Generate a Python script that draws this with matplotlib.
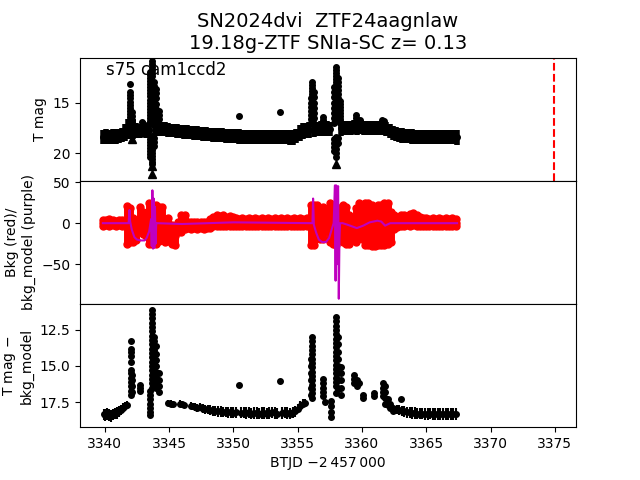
import numpy as np
import matplotlib
matplotlib.use("Agg")
import matplotlib.pyplot as plt

# ---- top panel: T mag band (time, mag, half-width of the scatter) ----
top_t = [3339.85, 3340.10, 3340.35, 3340.60, 3340.85, 3341.10, 3341.35, 3341.60, 3341.80, 3342.00,
         3342.20, 3342.45, 3342.70, 3342.95, 3343.20, 3343.45, 3343.90, 3344.15, 3344.40, 3344.65,
         3344.90, 3345.15, 3345.40, 3345.65, 3345.90, 3346.15, 3346.40, 3346.65, 3346.90, 3347.15,
         3347.40, 3347.65, 3347.90, 3348.15, 3348.40, 3348.65, 3348.90, 3349.15, 3349.40, 3349.65,
         3349.90, 3350.15, 3350.40, 3350.65, 3350.90, 3351.15, 3351.40, 3351.65, 3351.90, 3352.15,
         3352.40, 3352.65, 3352.90, 3353.15, 3353.40, 3353.65, 3353.90, 3354.15, 3354.40, 3354.65,
         3354.90, 3355.15, 3355.40, 3355.65, 3355.90, 3356.30, 3356.55, 3356.80, 3357.05, 3357.30,
         3357.55, 3358.40, 3358.65, 3358.90, 3359.15, 3359.40, 3359.65, 3359.90, 3360.15, 3360.40,
         3360.65, 3360.90, 3361.15, 3361.40, 3361.65, 3361.90, 3362.15, 3362.40, 3362.65, 3362.90,
         3363.15, 3363.40, 3363.65, 3363.90, 3364.15, 3364.40, 3364.65, 3364.90, 3365.15, 3365.40,
         3365.65, 3365.90, 3366.15, 3366.40, 3366.65, 3366.90, 3367.15, 3367.40]
top_m = [18.40, 18.35, 18.40, 18.38, 18.35, 18.30, 18.20, 17.95, 17.60, 17.30,
         17.60, 17.75, 17.80, 17.60, 17.75, 17.70, 17.35, 17.50, 17.60, 17.65,
         17.70, 17.75, 17.78, 17.80, 17.85, 17.90, 17.92, 17.95, 18.00, 18.03,
         18.05, 18.08, 18.10, 18.15, 18.18, 18.20, 18.22, 18.25, 18.28, 18.30,
         18.32, 18.34, 18.36, 18.38, 18.40, 18.40, 18.42, 18.42, 18.42, 18.42,
         18.42, 18.42, 18.42, 18.42, 18.42, 18.42, 18.42, 18.42, 18.44, 18.44,
         18.30, 18.00, 17.80, 17.75, 17.70, 17.60, 17.60, 17.55, 17.55, 17.55,
         17.60, 17.50, 17.50, 17.50, 17.50, 17.45, 17.45, 17.45, 17.50, 17.50,
         17.50, 17.50, 17.50, 17.50, 17.50, 17.65, 17.85, 18.00, 18.10, 18.20,
         18.25, 18.30, 18.32, 18.35, 18.38, 18.38, 18.40, 18.40, 18.40, 18.42,
         18.42, 18.42, 18.42, 18.42, 18.42, 18.42, 18.42, 18.45]
top_e = [0.70, 0.72, 0.70, 0.72, 0.70, 0.72, 0.72, 0.80, 0.98, 1.18,
         0.98, 0.75, 0.72, 0.80, 0.72, 0.75, 0.90, 0.80, 0.70, 0.68,
         0.66, 0.66, 0.66, 0.66, 0.66, 0.66, 0.67, 0.67, 0.67, 0.68,
         0.68, 0.68, 0.68, 0.68, 0.69, 0.69, 0.69, 0.69, 0.70, 0.70,
         0.70, 0.70, 0.71, 0.71, 0.71, 0.71, 0.71, 0.71, 0.71, 0.71,
         0.71, 0.71, 0.71, 0.71, 0.71, 0.71, 0.71, 0.71, 0.71, 0.72,
         0.72, 0.76, 0.76, 0.76, 0.76, 0.76, 0.72, 0.76, 0.76, 0.72,
         0.72, 0.76, 0.72, 0.68, 0.68, 0.70, 0.72, 0.70, 0.68, 0.68,
         0.68, 0.68, 0.68, 0.70, 0.72, 0.70, 0.70, 0.70, 0.70, 0.70,
         0.72, 0.70, 0.70, 0.70, 0.70, 0.70, 0.70, 0.70, 0.70, 0.70,
         0.70, 0.70, 0.70, 0.70, 0.70, 0.70, 0.70, 0.70]

# flare points above / below the band
pk_t = ([3341.98] * 11 + [3342.08] * 4 + [3342.92]
        + [3343.55] * 24 + [3343.68] * 17 + [3343.82] * 14 + [3344.00] * 7 + [3344.18] * 3
        + [3350.41, 3353.65]
        + [3356.02] * 7 + [3356.12] * 14 + [3356.24] * 6 + [3356.97] * 3
        + [3357.85] * 12 + [3358.00] * 24 + [3358.15] * 13 + [3358.32] * 8
        + [3359.57] * 3 + [3359.85, 3361.55, 3361.55, 3361.75])
pk_m = ([13.2, 14.0, 14.3, 14.6, 14.9, 15.2, 15.5, 15.8, 16.1, 16.4, 16.7]
        + [15.9, 16.3, 16.7, 17.0] + [16.9]
        + [12.0, 12.3, 12.6, 12.9, 13.2, 13.5, 13.8, 14.1, 14.4, 14.7, 15.0, 15.3, 15.6, 15.9,
           16.2, 16.5, 16.8, 18.6, 18.9, 19.2, 19.5, 19.8, 20.1, 20.4]
        + [10.85, 11.15, 11.45, 11.75, 12.05, 12.35, 17.1, 18.3, 18.7, 19.0, 19.4, 19.7, 20.0,
           20.3, 20.6, 20.9, 21.1]
        + [13.0, 13.4, 13.7, 14.0, 14.4, 14.8, 15.2, 15.6, 16.0, 16.4, 16.8, 18.5, 18.9, 19.3]
        + [13.7, 14.1, 14.6, 15.1, 15.6, 16.1, 16.6] + [15.8, 16.2, 16.6]
        + [16.28, 15.96]
        + [14.6, 15.0, 15.4, 15.8, 16.2, 16.6, 17.0]
        + [13.0, 13.3, 13.6, 13.9, 14.2, 14.5, 14.8, 15.1, 15.4, 15.7, 16.0, 16.3, 16.6, 16.9]
        + [14.0, 14.5, 15.0, 15.5, 16.0, 16.5] + [16.4, 16.7, 17.0]
        + [13.5, 14.0, 14.5, 15.0, 15.5, 16.0, 16.5, 17.0, 18.6, 19.0, 19.4, 19.8]
        + [11.5, 11.8, 12.1, 12.4, 12.7, 13.0, 13.3, 13.6, 13.9, 14.2, 14.5, 14.8, 15.1, 15.4,
           15.7, 16.0, 16.3, 16.6, 18.4, 18.8, 19.2, 19.6, 20.0, 20.4]
        + [12.6, 13.0, 13.4, 13.8, 14.2, 14.6, 15.0, 15.4, 15.8, 16.2, 16.6, 18.5, 19.0]
        + [14.8, 15.1, 15.4, 15.7, 16.0, 16.3, 16.6, 17.0]
        + [16.2, 16.5, 16.9] + [16.7, 16.7, 17.0, 16.8])

# upper limits
lim_t = [3342.10, 3343.70, 3343.70, 3358.00]
lim_m = [18.65, 21.25, 22.10, 21.05]

# ---- middle panel: background (red, low/high of the scatter) and model (purple) ----
bkg_t = [3339.85, 3340.10, 3340.35, 3340.60, 3340.85, 3341.10, 3341.35, 3341.75, 3341.95, 3342.20,
         3342.45, 3342.70, 3342.95, 3343.20, 3343.45, 3343.70, 3343.95, 3344.20, 3344.45, 3344.70,
         3344.95, 3345.20, 3345.45, 3345.70, 3345.95, 3346.20, 3346.45, 3346.70, 3346.95, 3347.20,
         3347.45, 3347.70, 3347.95, 3348.20, 3348.45, 3348.70, 3348.95, 3349.20, 3349.45, 3349.70,
         3349.95, 3350.20, 3350.45, 3350.70, 3350.95, 3351.20, 3351.45, 3351.70, 3351.95, 3352.20,
         3352.45, 3352.70, 3352.95, 3353.20, 3353.45, 3353.70, 3353.95, 3354.20, 3354.45, 3354.70,
         3354.95, 3355.20, 3355.45, 3355.70, 3356.00, 3356.25, 3356.50, 3356.75, 3357.00, 3357.25,
         3357.50, 3357.75, 3358.00, 3358.25, 3358.50, 3358.75, 3359.00, 3359.25, 3359.50, 3359.75,
         3360.00, 3360.25, 3360.50, 3360.75, 3361.00, 3361.25, 3361.50, 3361.75, 3362.00, 3362.25,
         3362.50, 3362.75, 3363.00, 3363.25, 3363.50, 3363.75, 3364.00, 3364.25, 3364.50, 3364.75,
         3365.00, 3365.25, 3365.50, 3365.75, 3366.00, 3366.25, 3366.50, 3366.75, 3367.00, 3367.30]
bkg_lo = [-3, -2, -3, -2, -3, -2, -3, -25, -23, -23,
          -21, -7, -13, -15, -25, -25, -25, -22, -18, -23,
          -22, -25, -27, -11, -11, -7, -6, -7, -6, -7,
          -6, -7, -6, -6, -4, -3, -4, -3, -4, -3,
          -4, -3, -3, -4, -3, -4, -4, -4, -3, -4,
          -4, -3, -4, -4, -4, -3, -4, -4, -3, -4,
          -4, -4, -3, -4, -27, -27, -14, -19, -19, -10,
          -23, -25, -27, -15, -23, -25, -25, -19, -23, -18,
          -19, -27, -27, -28, -28, -27, -27, -26, -25, -23,
          -7, -5, -3, -3, -2, -3, -2, -3, -3, -4,
          -4, -4, -3, -4, -4, -3, -4, -4, -3, -4]
bkg_hi = [4, 4, 5, 4, 3, 4, 4, 21, 18, 6,
          2, 20, 14, 10, 25, 14, 22, 20, 20, 5,
          6, -2, -3, 2, 10, 10, 1, 2, 1, 2,
          1, 2, 2, 5, 8, 10, 9, 10, 8, 9,
          7, 6, 5, 6, 5, 6, 5, 6, 5, 6,
          5, 6, 5, 6, 5, 6, 5, 6, 5, 6,
          5, 6, 5, 6, 22, 22, 22, 5, 20, 15,
          25, 20, 13, 18, 22, 20, 10, 6, 18, 24,
          22, 24, 24, 22, 18, 22, 22, 25, 24, 14,
          10, 8, 10, 10, 9, 11, 12, 10, 8, 6,
          6, 5, 6, 5, 6, 5, 6, 5, 6, 5]

mod_t = [3339.85, 3341.85, 3341.92, 3341.97, 3342.10, 3342.30, 3342.50, 3342.80, 3343.10, 3343.25,
         3343.45, 3343.60, 3343.65, 3343.70, 3343.75, 3343.80, 3343.85, 3343.90, 3343.95, 3344.00,
         3344.10, 3346.00, 3348.00, 3350.00, 3356.15, 3356.20, 3356.26, 3356.45, 3356.65, 3356.90,
         3357.20, 3357.45, 3357.60, 3357.80, 3357.90, 3357.95, 3358.00, 3358.05, 3358.10, 3358.15,
         3358.20, 3358.25, 3358.30, 3358.50, 3358.90, 3359.60, 3360.10, 3360.60, 3361.20, 3361.50,
         3361.80, 3362.20, 3367.40]
mod_v = [0, 0, 16, 2, -8, -17, -20, -21, -21, -18,
         -10, 5, -28, 40, -31, 30, -30, 20, -25, 0,
         0, -1, 0, 1, 0, 30, -2, -12, -20, -23,
         -23, -18, -10, 0, 46, -70, 46, -50, 40, 45,
         -92, -20, 0, 0, -2, -6, -3, 1, 3, 2,
         -3, 0, 0]

# ---- bottom panel: T mag - bkg_model ----
# quiet-phase points (with scatter)
bot_t = [3339.90, 3340.05, 3340.20, 3340.35, 3340.50, 3340.65, 3340.80, 3340.95, 3341.10, 3341.25,
         3341.40, 3341.55, 3341.70,
         3344.95, 3345.15, 3345.30, 3345.85, 3346.00, 3346.15, 3346.70, 3346.85, 3347.00, 3347.20,
         3347.40, 3347.60, 3347.80, 3348.00, 3348.20, 3348.40, 3348.60, 3348.80, 3349.00, 3349.20,
         3349.40, 3349.60, 3349.80, 3350.00, 3350.20, 3350.60, 3350.80, 3351.00, 3351.20, 3351.40,
         3351.60, 3351.80, 3352.00, 3352.20, 3352.40, 3352.60, 3352.80, 3353.00, 3353.20, 3353.40,
         3353.80, 3354.00, 3354.20, 3354.40, 3354.60, 3354.80, 3355.00, 3355.20, 3355.40, 3355.60,
         3362.70, 3362.90, 3363.10, 3363.30, 3363.50, 3363.70, 3363.90, 3364.10, 3364.30, 3364.50,
         3364.70, 3364.90, 3365.10, 3365.30, 3365.50, 3365.70, 3365.90, 3366.10, 3366.30, 3366.50,
         3366.70, 3366.90, 3367.10, 3367.30]
bot_m = [18.35, 18.40, 18.30, 18.40, 18.45, 18.35, 18.30, 18.25, 18.15, 18.05,
         17.90, 17.80, 17.70,
         17.55, 17.60, 17.65, 17.60, 17.65, 17.70, 17.75, 17.80, 17.85, 17.90,
         17.85, 17.95, 18.00, 18.00, 18.05, 18.10, 18.12, 18.15, 18.15, 18.18,
         18.20, 18.22, 18.22, 18.25, 18.22, 18.25, 18.25, 18.25, 18.22, 18.30,
         18.25, 18.25, 18.30, 18.25, 18.25, 18.30, 18.25, 18.22, 18.25, 18.30,
         18.25, 18.22, 18.25, 18.30, 18.22, 18.15, 17.95, 17.75, 17.60, 17.55,
         18.00, 18.05, 18.10, 18.15, 18.20, 18.20, 18.25, 18.25, 18.30, 18.30,
         18.30, 18.32, 18.32, 18.30, 18.32, 18.32, 18.32, 18.35, 18.32, 18.32,
         18.35, 18.32, 18.32, 18.35]
bot_e = [0.40, 0.42, 0.42, 0.40, 0.42, 0.40, 0.40, 0.40, 0.36, 0.35,
         0.32, 0.30, 0.30,
         0.22, 0.22, 0.22, 0.22, 0.22, 0.22, 0.25, 0.25, 0.28, 0.28,
         0.28, 0.30, 0.30, 0.30, 0.32, 0.35, 0.35, 0.35, 0.35, 0.35,
         0.35, 0.35, 0.35, 0.38, 0.38, 0.38, 0.38, 0.40, 0.40, 0.40,
         0.40, 0.40, 0.40, 0.40, 0.40, 0.40, 0.40, 0.40, 0.40, 0.40,
         0.40, 0.40, 0.40, 0.40, 0.40, 0.36, 0.32, 0.30, 0.28, 0.28,
         0.32, 0.35, 0.35, 0.35, 0.38, 0.38, 0.40, 0.40, 0.40, 0.40,
         0.40, 0.40, 0.40, 0.40, 0.40, 0.40, 0.40, 0.42, 0.42, 0.42,
         0.42, 0.42, 0.42, 0.42]

# flare-phase points
bf_t = ([3342.00] * 12 + [3342.08] * 4 + [3342.75] * 3 + [3343.50] * 7 + [3343.68] * 19
        + [3343.82] * 10 + [3344.00] * 8 + [3344.20] * 4 + [3350.41, 3353.65]
        + [3356.05] * 6 + [3356.12] * 15 + [3356.95] * 5 + [3357.10] + [3357.60] * 4
        + [3357.98] * 18 + [3358.15] * 8 + [3358.35] * 5 + [3359.40] * 3 + [3359.60] * 2
        + [3359.80] + [3360.10] * 2 + [3360.90] * 2 + [3361.60] * 4 + [3361.80] * 4
        + [3362.00] * 2 + [3362.20] * 2 + [3362.45] * 2 + [3363.00])
bf_m = ([13.25, 13.8, 14.0, 14.3, 14.7, 15.3, 15.5, 15.8, 16.1, 16.4, 16.7, 17.0]
        + [15.6, 16.0, 16.4, 16.8] + [16.3, 16.5, 16.7]
        + [16.7, 17.0, 17.3, 17.6, 17.9, 18.2, 18.4]
        + [11.15, 11.4, 11.7, 12.0, 12.3, 12.6, 12.9, 13.2, 13.5, 13.8, 14.1, 14.4, 14.7, 15.0,
           15.3, 15.6, 15.9, 16.2, 16.5]
        + [13.0, 13.3, 13.6, 13.9, 14.2, 14.5, 14.8, 15.1, 15.5, 16.0]
        + [13.6, 14.2, 14.6, 15.0, 15.4, 15.8, 16.2, 16.5] + [15.5, 16.0, 16.4, 16.8]
        + [16.34, 16.04]
        + [14.5, 15.0, 15.5, 16.0, 16.5, 17.0]
        + [13.0, 13.3, 13.6, 13.9, 14.2, 14.5, 14.8, 15.1, 15.4, 15.7, 16.0, 16.3, 16.6, 16.9, 17.2]
        + [15.9, 16.2, 16.5, 16.8, 17.1] + [17.5] + [17.4, 17.8, 18.2, 18.5]
        + [11.6, 11.9, 12.2, 12.5, 12.8, 13.1, 13.4, 13.7, 14.0, 14.3, 14.6, 14.9, 15.2, 15.5,
           15.8, 16.1, 16.4, 16.9]
        + [13.0, 13.5, 14.0, 14.5, 15.0, 15.5, 16.0, 16.6] + [15.1, 15.5, 16.0, 16.5, 17.0]
        + [15.6, 15.9, 16.2] + [16.0, 16.4] + [16.2]
        + [17.0, 17.2] + [16.9, 17.1] + [16.2, 16.5, 16.8, 17.1] + [16.4, 16.8, 17.2, 17.6]
        + [17.3, 17.7] + [17.6, 17.9] + [17.9, 18.1] + [17.3])

t_peak_line = 3374.9

fig, (ax1, ax2, ax3) = plt.subplots(3, 1, sharex=True, figsize=(6.4, 4.8), dpi=100)
fig.subplots_adjust(hspace=0)

ax1.errorbar(top_t, top_m, yerr=top_e, fmt='o', color='k', ms=4, elinewidth=4, capsize=0)
ax1.plot(pk_t, pk_m, 'o', color='k', ms=4)
ax1.plot(lim_t, lim_m, '^', color='k', ms=6)
ax1.axvline(t_peak_line, color='r', ls='--', lw=1.5)
ax1.set_ylim(22.73, 10.56)
ax1.set_yticks([15, 20])
ax1.set_ylabel('T mag')
ax1.text(0.052, 0.975, 's75 cam1ccd2', transform=ax1.transAxes, va='top', fontsize=12)
ax1.set_title('SN2024dvi  ZTF24aagnlaw\n19.18g-ZTF SNIa-SC z= 0.13', fontsize=14)

b_t = np.array(bkg_t)
b_lo = np.array(bkg_lo)
b_hi = np.array(bkg_hi)
b_mid = (b_lo + b_hi) / 2
ax2.errorbar(b_t, b_mid, yerr=[b_mid - b_lo, b_hi - b_mid], fmt='o', color='r',
             ms=5, elinewidth=5, capsize=0)
ax2.plot(b_t, b_lo, 'o', color='r', ms=5)
ax2.plot(b_t, b_hi, 'o', color='r', ms=5)
ax2.plot(mod_t, mod_v, color='m', lw=1.5, zorder=4)
ax2.set_ylim(-98.4, 51.6)
ax2.set_yticks([-50, 0, 50])
ax2.set_ylabel('Bkg (red)/\nbkg_model (purple)')

ax3.errorbar(bot_t, bot_m, yerr=bot_e, fmt='o', color='k', ms=4, elinewidth=1.5, capsize=0)
ax3.plot(bf_t, bf_m, 'o', color='k', ms=4)
ax3.set_ylim(19.24, 10.71)
ax3.set_yticks([12.5, 15.0, 17.5])
ax3.set_ylabel('T mag $-$\nbkg_model')
ax3.set_xlim(3338.07, 3376.65)
ax3.set_xticks(range(3340, 3380, 5))
ax3.set_xlabel('BTJD \u22122\u2009457\u2009000')

fig.savefig('out.png')
